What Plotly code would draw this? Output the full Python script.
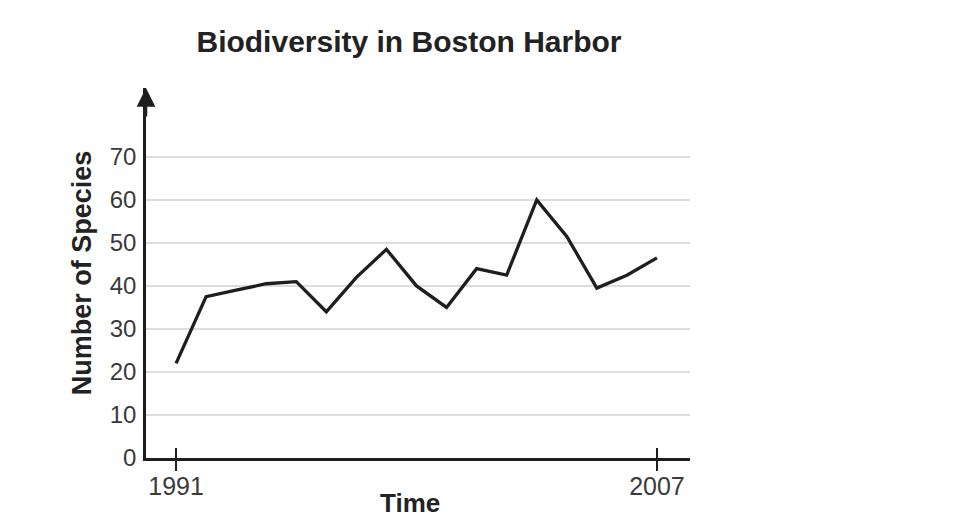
import plotly.graph_objects as go

# Biodiversity in Boston Harbor, 1991-2007
years = list(range(1991, 2008))
species = [22, 37.5, 39, 40.5, 41, 34, 42, 48.5, 40, 35, 44, 42.5, 60, 51.5, 39.5, 42.5, 46.5]

y_ticks = [0, 10, 20, 30, 40, 50, 60, 70]
x_ticks = [1991, 2007]

ink = "#1e1e1e"
label_col = "#3a3a3a"
font_fam = "Liberation Sans, Arial, sans-serif"

# the page body has an 8px margin, so the figure is a bit smaller than the window
W, H = 963, 513

fig = go.Figure()
fig.add_trace(go.Scatter(x=years, y=species, mode="lines",
                         line=dict(color=ink, width=3.3), showlegend=False))

fig.update_layout(
    width=W, height=H,
    margin=dict(l=138, r=281, t=80, b=63),
    paper_bgcolor="white", plot_bgcolor="white",
    font=dict(family=font_fam, color=label_col),
    title=dict(text="<b>Biodiversity in Boston Harbor</b>",
               font=dict(size=30, color="#222"),
               x=401 / W, xref="container", xanchor="center",
               y=1 - 33 / H, yref="container", yanchor="middle"),
    xaxis=dict(range=[1990, 2008.1], tickvals=x_ticks, ticks="outside",
               ticklen=10, tickwidth=2, tickcolor=ink,
               showline=True, linecolor=ink, linewidth=2.5,
               showgrid=False, zeroline=False, automargin=False,
               ticklabelstandoff=-6,
               tickfont=dict(size=25, color=label_col)),
    # second copy of the x axis, only to draw the upper half of the ticks
    xaxis2=dict(range=[1990, 2008.1], tickvals=x_ticks, ticks="inside",
                ticklen=10, tickwidth=2, tickcolor=ink, overlaying="x",
                side="bottom", showticklabels=False, showgrid=False,
                zeroline=False, showline=False, automargin=False),
    yaxis=dict(range=[0, 86], tickvals=y_ticks, ticks="",
               showline=True, linecolor=ink, linewidth=2.5,
               showgrid=True, gridcolor="#dddddd", gridwidth=2,
               zeroline=False, ticklabelstandoff=2, automargin=False,
               tickfont=dict(size=24, color=label_col),
               title=dict(text="<b>Number of Species</b>",
                          font=dict(size=27, color="#222"), standoff=11)),
)

# dummy trace so that xaxis2 is drawn
fig.add_trace(go.Scatter(x=[years[0]], y=[species[0]], xaxis="x2",
                         mode="markers", marker=dict(opacity=0),
                         showlegend=False, hoverinfo="skip"))

# x axis title sits a bit left of the plot centre, as low as the figure allows
fig.add_annotation(text="<b>Time</b>", xref="paper", yref="paper",
                   x=0.485, y=0, yshift=-62, xanchor="center", yanchor="bottom",
                   showarrow=False, font=dict(size=26, color="#222"))

# arrow head on top of the y axis
fig.add_annotation(x=1990, y=86, ax=1990, ay=79, xref="x", yref="y",
                   axref="x", ayref="y", text="", showarrow=True,
                   arrowhead=2, arrowsize=1.5, arrowwidth=2.5,
                   arrowcolor=ink)

fig.write_html("out.html")
